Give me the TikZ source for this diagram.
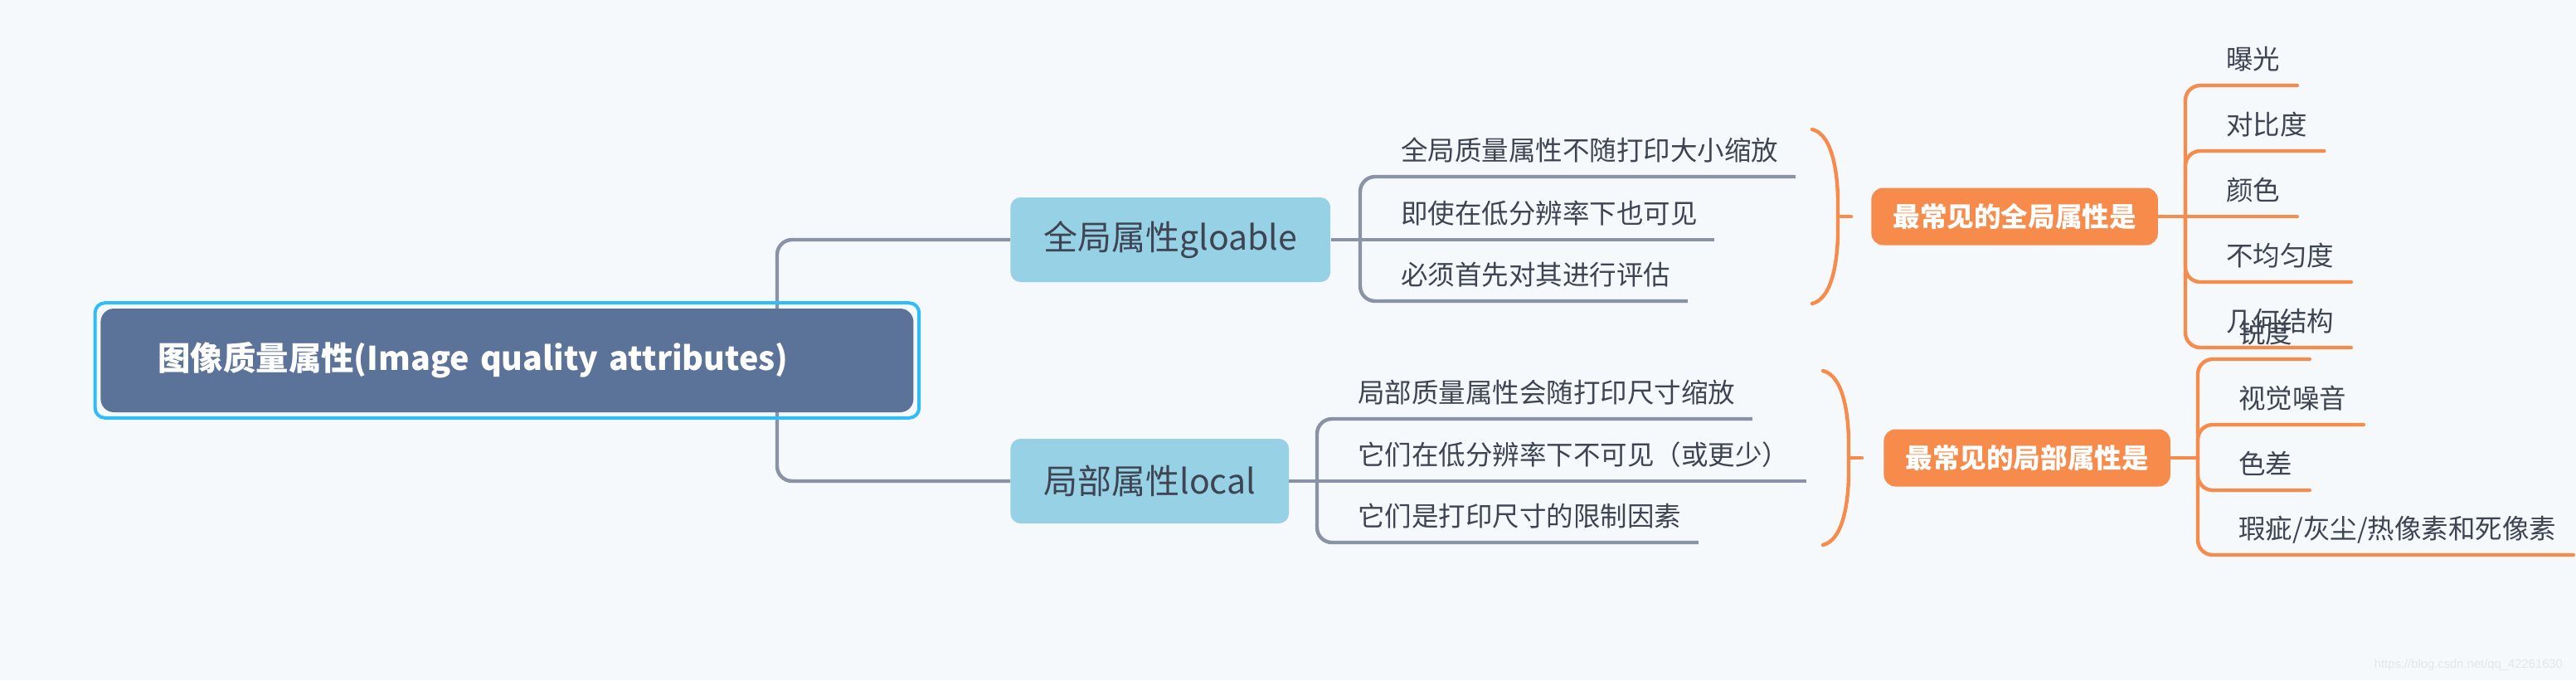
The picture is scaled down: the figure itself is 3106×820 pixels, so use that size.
\documentclass[tikz,border=0pt]{standalone}
\usepackage{fontspec}
\setmainfont{Noto Sans CJK SC}
\newfontfamily\markfont{Liberation Sans}
\usepackage{tikz}
\usetikzlibrary{positioning, calc, fit}
\definecolor{mmbg}{RGB}{245,249,252}
\definecolor{mmroot}{RGB}{91,114,153}
\definecolor{mmring}{RGB}{46,188,250}
\definecolor{mmblue}{RGB}{150,209,230}
\definecolor{mmorange}{RGB}{246,139,76}
\definecolor{mmline}{RGB}{138,147,165}
\definecolor{mmtext}{RGB}{62,68,81}
\definecolor{mmmark}{RGB}{226,231,237}

\begin{document}
\begin{tikzpicture}[x=0.5pt, y=-0.5pt,
  rootbox/.style={fill=mmroot, rounded corners=8pt, anchor=west, text width=421pt,
    align=left, inner xsep=34.5pt, minimum height=62.5pt, text=white,
    font=\fontsize{19.7}{24}\selectfont\bfseries},
  rootring/.style={draw=mmring, line width=2pt, rounded corners=6pt, inner sep=3.2pt},
  topic/.style={fill=mmblue, rounded corners=6pt, anchor=west, minimum height=51pt,
    inner xsep=20pt, text=mmtext, font=\fontsize{20.5}{24}\selectfont},
  sumbox/.style={fill=mmorange, rounded corners=7pt, anchor=west, minimum height=34.5pt,
    inner xsep=13pt, text=white, font=\fontsize{16.3}{20}\selectfont\bfseries},
  leaf/.style={anchor=south west, inner xsep=10pt, inner ysep=0pt, text depth=9.5pt,
    text=mmtext, font=\fontsize{16.25}{19}\selectfont},
  gline/.style={draw=mmline, line width=2.2pt, rounded corners=9pt},
  oline/.style={draw=mmorange, line width=2.2pt, rounded corners=9pt, line cap=round}]
% background
\fill[mmbg] (0,0) rectangle (3106,820);
\useasboundingbox (0,0) rectangle (3106,820);

% root to topics
\coordinate (jr) at (937,434.5);
\node[topic] (gtopic) at (1218,289) {全局属性gloable};
\node[topic] (ltopic) at (1218,580) {局部属性local};
\draw[gline] (jr) |- (gtopic.west);
\draw[gline] (jr) |- (ltopic.west);

% root
\node[rootbox] (root) at (121,434.5) {图像质量属性(Image quality attributes)};
\node[rootring, fit=(root)] (rootfit) {};

% ---- global branch ----
\coordinate (jg) at (1640,289);
\foreach \i/\y/\txt in {1/213/全局质量属性不随打印大小缩放,
    2/289/即使在低分辨率下也可见,
    3/363/必须首先对其进行评估}{
  \node[leaf] (g\i) at (1669,\y) {\txt};
}
\draw[gline] (gtopic.east) -- (g2.south east);
\draw[gline] (jg) |- (g1.south east);
\draw[gline] (jg) |- (g3.south east);

% ---- local branch ----
\coordinate (jl) at (1588,580);
\foreach \i/\y/\txt in {1/505/局部质量属性会随打印尺寸缩放,
    2/580/它们在低分辨率下不可见（或更少）,
    3/654/它们是打印尺寸的限制因素}{
  \node[leaf] (l\i) at (1617,\y) {\txt};
}
\draw[gline] (ltopic.east) -- (l2.south east);
\draw[gline] (jl) |- (l1.south east);
\draw[gline] (jl) |- (l3.south east);

% ---- global summary ----
\coordinate (gbt) at (2185,156);
\coordinate (gb) at (2216,261);
\coordinate (gbb) at (2185,366);
\draw[oline] (gbt) .. controls (2211,162) and (2216,215) .. (gb)
  .. controls (2216,307) and (2211,360) .. (gbb);
\node[sumbox] (gsum) at (2256,261) {最常见的全局属性是};
\draw[oline] (gb) -- ++(16,0);

\coordinate (jgo) at (2635,261);
\foreach \i/\y/\txt in {1/103/曝光, 2/182/对比度, 3/261/颜色,
    4/340/不均匀度, 5/419/几何结构}{
  \node[leaf] (go\i) at (2664,\y) {\txt};
}
\draw[oline] (gsum.east) -- (go3.south east);
\foreach \i in {1,2,4,5}
  \draw[oline] (jgo) |- (go\i.south east);

% ---- local summary ----
\coordinate (lbt) at (2198,447);
\coordinate (lb) at (2229,552);
\coordinate (lbb) at (2198,657);
\draw[oline] (lbt) .. controls (2224,453) and (2229,505) .. (lb)
  .. controls (2229,599) and (2224,651) .. (lbb);
\node[sumbox] (lsum) at (2271,552) {最常见的局部属性是};
\draw[oline] (lb) -- ++(16,0);

\coordinate (jlo) at (2650,552);
\foreach \i/\y/\txt in {1/433/锐度, 2/512/视觉噪音, 3/591/色差,
    4/669/{瑕疵/灰尘/热像素和死像素}}{
  \node[leaf] (lo\i) at (2679,\y) {\txt};
}
\draw[oline] (lsum.east) -- (jlo);
\foreach \i in {1,...,4}
  \draw[oline] (jlo) |- (lo\i.south east);

% watermark
\node[anchor=east, text=mmmark, font=\markfont\fontsize{7.4}{9}\selectfont] (mark)
  at (3097,802) {https://blog.csdn.net/qq\_42261630};
\end{tikzpicture}
\end{document}
